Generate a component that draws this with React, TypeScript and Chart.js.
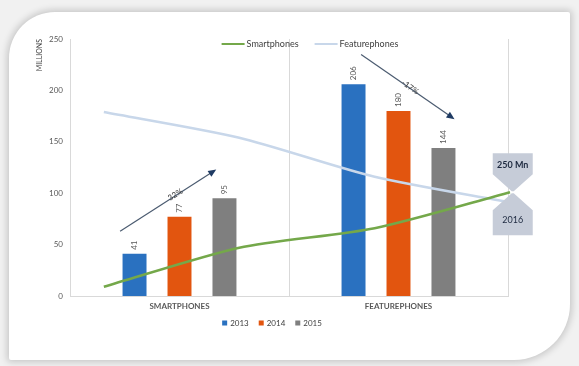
import React, { useEffect, useRef } from 'react';
import { Chart, registerables } from 'chart.js';

Chart.register(...registerables);

// ---- data ----
const categories = ['SMARTPHONES', 'FEATUREPHONES'];
const barYears = ['2013', '2014', '2015'];
const shipments2013 = [41, 206];
const shipments2014 = [77, 180];
const shipments2015 = [95, 144];
const barColors = ['#2a71c0', '#e2550f', '#7f7f7f'];

const trendYears = [2013, 2014, 2015, 2016];
const smartphoneTrend = [9, 47, 66, 101];
const featurephoneTrend = [179, 154, 116, 91];
const trendNames = ['Smartphones', 'Featurephones'];
const trendColors = ['#74a84a', '#c8d7ea'];

const yMax = 250;
const yStep = 50;

// arrows in (trend-year index, value) coordinates
const growthArrows = [
  { from: [0.12, 63], to: [0.83, 123], label: '32%', at: 0.58 },
  { from: [1.9, 235], to: [2.59, 172], label: '-17%', at: 0.52 },
];
const crossover = { x: 3.02, value: 101, top: '250 Mn', bottom: '2016' };

const FONT = 'Lato, "Liberation Sans", sans-serif';

const overlayPlugin = {
  id: 'overlay',
  afterDatasetsDraw(chart: any) {
    const ctx = chart.ctx;
    const x2 = chart.scales.x2;
    const y = chart.scales.y;
    // bar value labels (rotated)
    chart.data.datasets.forEach((ds: any, di: number) => {
      if (ds.type !== 'bar') return;
      const meta = chart.getDatasetMeta(di);
      meta.data.forEach((bar: any, i: number) => {
        ctx.save();
        ctx.translate(bar.x, bar.y - 4);
        ctx.rotate(-Math.PI / 2);
        ctx.font = `8px ${FONT}`;
        ctx.fillStyle = '#595959';
        ctx.textAlign = 'left';
        ctx.textBaseline = 'middle';
        ctx.fillText(String(ds.data[i]), 0, 0);
        ctx.restore();
      });
    });
    // arrows
    growthArrows.forEach((a) => {
      const p1 = [x2.getPixelForValue(a.from[0]), y.getPixelForValue(a.from[1])];
      const p2 = [x2.getPixelForValue(a.to[0]), y.getPixelForValue(a.to[1])];
      const ang = Math.atan2(p2[1] - p1[1], p2[0] - p1[0]);
      ctx.save();
      ctx.strokeStyle = '#4b5b70';
      ctx.lineWidth = 1.2;
      ctx.beginPath();
      ctx.moveTo(p1[0], p1[1]);
      ctx.lineTo(p2[0] - 5 * Math.cos(ang), p2[1] - 5 * Math.sin(ang));
      ctx.stroke();
      ctx.fillStyle = '#1f3b63';
      ctx.beginPath();
      ctx.moveTo(p2[0], p2[1]);
      ctx.lineTo(p2[0] - 8 * Math.cos(ang) + 3.5 * Math.sin(ang), p2[1] - 8 * Math.sin(ang) - 3.5 * Math.cos(ang));
      ctx.lineTo(p2[0] - 8 * Math.cos(ang) - 3.5 * Math.sin(ang), p2[1] - 8 * Math.sin(ang) + 3.5 * Math.cos(ang));
      ctx.closePath();
      ctx.fill();
      const mx = p1[0] + (p2[0] - p1[0]) * a.at;
      const my = p1[1] + (p2[1] - p1[1]) * a.at;
      ctx.translate(mx, my);
      ctx.rotate(ang);
      ctx.font = `8px ${FONT}`;
      ctx.fillStyle = '#3a3a3a';
      ctx.textAlign = 'center';
      ctx.textBaseline = 'middle';
      ctx.fillText(a.label, 0, -1);
      ctx.restore();
    });
    // hourglass badge
    const cx = x2.getPixelForValue(crossover.x);
    const cy = y.getPixelForValue(crossover.value);
    const hw = 20;
    ctx.save();
    ctx.fillStyle = '#c6ccd8';
    ctx.beginPath();
    ctx.moveTo(cx - hw, cy - 39);
    ctx.lineTo(cx + hw, cy - 39);
    ctx.lineTo(cx + hw, cy - 18);
    ctx.lineTo(cx + 1, cy - 1);
    ctx.lineTo(cx - 1, cy - 1);
    ctx.lineTo(cx - hw, cy - 18);
    ctx.closePath();
    ctx.fill();
    ctx.beginPath();
    ctx.moveTo(cx - 1, cy + 1);
    ctx.lineTo(cx + 1, cy + 1);
    ctx.lineTo(cx + hw, cy + 18);
    ctx.lineTo(cx + hw, cy + 43);
    ctx.lineTo(cx - hw, cy + 43);
    ctx.lineTo(cx - hw, cy + 18);
    ctx.closePath();
    ctx.fill();
    ctx.fillStyle = '#1e2a40';
    ctx.textAlign = 'center';
    ctx.textBaseline = 'middle';
    ctx.font = `bold 9px ${FONT}`;
    ctx.fillText(crossover.top, cx, cy - 27);
    ctx.font = `9px ${FONT}`;
    ctx.fillText(crossover.bottom, cx, cy + 28);
    ctx.restore();
  },
  afterDraw(chart: any) {
    const ctx = chart.ctx;
    const area = chart.chartArea;
    ctx.save();
    ctx.textBaseline = 'middle';
    ctx.textAlign = 'left';
    // top legend (lines)
    ctx.font = `9px ${FONT}`;
    const sample = 23;
    const widths = trendNames.map((n) => sample + 2 + ctx.measureText(n).width);
    const gap = 16;
    const total = widths.reduce((s, w) => s + w, 0) + gap;
    let lx = (area.left + area.right) / 2 + 21 - total / 2;
    const ly = area.top + 5;
    trendNames.forEach((n, i) => {
      ctx.strokeStyle = trendColors[i];
      ctx.lineWidth = 2;
      ctx.beginPath();
      ctx.moveTo(lx, ly);
      ctx.lineTo(lx + sample, ly);
      ctx.stroke();
      ctx.fillStyle = '#404040';
      ctx.fillText(n, lx + sample + 2, ly);
      lx += widths[i] + gap;
    });
    // bottom legend (bars)
    ctx.font = `8px ${FONT}`;
    const bw = barYears.map((n) => 8 + ctx.measureText(n).width);
    const bgap = 10;
    const btotal = bw.reduce((s, w) => s + w, 0) + bgap * (barYears.length - 1);
    let bx = (area.left + area.right) / 2 - 17 - btotal / 2;
    const by = area.bottom + 27;
    barYears.forEach((n, i) => {
      ctx.fillStyle = barColors[i];
      ctx.fillRect(bx, by - 2.5, 5, 5);
      ctx.fillStyle = '#404040';
      ctx.fillText(n, bx + 8, by);
      bx += bw[i] + bgap;
    });
    ctx.restore();
  },
};

export default function App() {
  const ref = useRef<HTMLCanvasElement | null>(null);
  useEffect(() => {
    if (!ref.current) return;
    const barSets = [shipments2013, shipments2014, shipments2015].map((d, i) => ({
      type: 'bar' as const,
      label: barYears[i],
      data: [...d],
      indexAxis: 'x',
      backgroundColor: barColors[i],
      xAxisID: 'x',
      yAxisID: 'y',
      categoryPercentage: 0.616,
      barPercentage: 0.533,
      order: 2,
    }));
    const lineSets = [smartphoneTrend, featurephoneTrend].map((d, i) => ({
      type: 'line' as const,
      label: trendNames[i],
      data: d.map((v, j) => ({ x: trendYears[j] - trendYears[0], y: v })),
      indexAxis: 'x',
      borderColor: trendColors[i],
      borderWidth: 2.5,
      pointRadius: 0,
      tension: 0.25,
      xAxisID: 'x2',
      yAxisID: 'y',
      clip: false as any,
      order: 1,
    }));
    const chart = new Chart(ref.current, {
      type: 'bar',
      data: { labels: [...categories], datasets: [...barSets, ...lineSets] as any },
      options: {
        // chart-level 'y' so bar grouping does not split slots per x-axis; datasets are x-indexed
        indexAxis: 'y',
        animation: false,
        responsive: false,
        maintainAspectRatio: false,
        layout: { padding: { left: 30, top: 39, right: 71, bottom: 0 } },
        plugins: { legend: { display: false }, tooltip: { enabled: false } },
        scales: {
          x: {
            type: 'category',
            offset: true,
            grid: { display: true, offset: true, color: '#d9d9d9', drawTicks: false },
            border: { display: true, color: '#d9d9d9' },
            ticks: { color: '#595959', font: { family: FONT, size: 8, weight: 'bold' }, padding: 6 },
            afterFit: (s: any) => { s.height = 70; },
          },
          x2: {
            type: 'linear',
            display: false,
            offset: false,
            grid: { offset: false },
            min: -0.25,
            max: 2.985,
          },
          y: {
            type: 'linear',
            offset: false,
            min: 0,
            max: yMax,
            ticks: { stepSize: yStep, color: '#595959', font: { family: FONT, size: 8 }, padding: 7 },
            grid: { display: false, drawTicks: false, offset: false },
            border: { display: true, color: '#d9d9d9' },
            title: {
              display: true,
              text: 'MILLIONS',
              align: 'end',
              color: '#404040',
              font: { family: FONT, size: 7 },
              padding: { top: 6, bottom: 0 },
            },
            afterFit: (s: any) => { s.width = 40; },
          },
        },
      } as any,
      plugins: [overlayPlugin],
    });
    return () => chart.destroy();
  }, []);

  return (
    <div style={{ position: 'fixed', left: 0, top: 0, width: 579, height: 366, background: '#f1f1f1', overflow: 'hidden' }}>
      <div
        style={{
          position: 'absolute',
          left: 9,
          top: 12,
          width: 561,
          height: 348,
          background: '#ffffff',
          borderRadius: '46px 2px 56px 2px',
          boxShadow: '0 0 7px 2px rgba(0,0,0,0.18)',
        }}
      />
      <canvas ref={ref} width={579} height={366} style={{ position: 'absolute', left: 0, top: 0, width: 579, height: 366 }} />
    </div>
  );
}
